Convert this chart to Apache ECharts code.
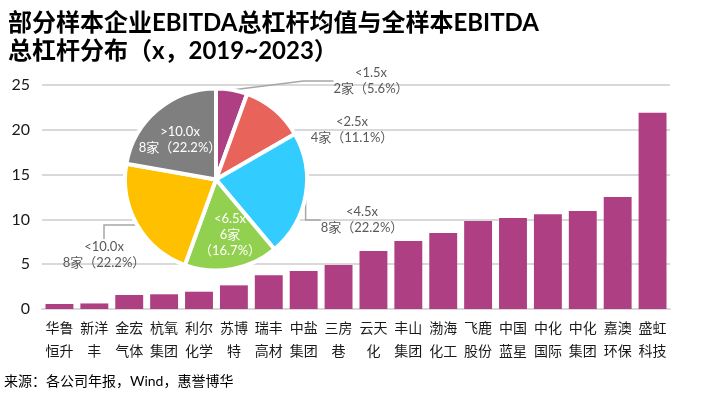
<!DOCTYPE html>
<html>
<head>
<meta charset="utf-8">
<script src="https://cdn.jsdelivr.net/npm/echarts@6/dist/echarts.min.js"></script>
<style>
  html,body{margin:0;padding:0;background:#fff;}
  #chart{width:701px;height:399px;}
</style>
</head>
<body>
<div id="chart"></div>
<script>
// bar data: EBITDA gross leverage mean 2019~2023
const companies = ['华鲁\n恒升','新洋\n丰','金宏\n气体','杭氧\n集团','利尔\n化学','苏博\n特','瑞丰\n高材','中盐\n集团','三房\n巷',
  '云天\n化','丰山\n集团','渤海\n化工','飞鹿\n股份','中国\n蓝星','中化\n国际','中化\n集团','嘉澳\n环保','盛虹\n科技'];
const leverage = [0.56, 0.62, 1.56, 1.64, 1.93, 2.64, 3.76, 4.24, 4.91, 6.47, 7.59, 8.48, 9.82, 10.16, 10.57, 10.94, 12.5, 21.9];
const yTicks = [0, 25, 5]; // min, max, interval

// pie data: distribution across full sample
const buckets = ['<1.5x','<2.5x','<4.5x','<6.5x','<10.0x','>10.0x'];
const bucketCounts = [2, 4, 8, 6, 8, 8];
const bucketColors = ['#AE3F82','#E8635A','#33CCFF','#92D050','#FFC000','#7F7F7F'];
const insideLabel = [false, false, false, true, false, true];
const labelSpots = [[371,81],[352,130],[362,220],[230,235],[104,255],[180,140]];

const FONT = 'Lato, "Noto Sans CJK SC", sans-serif';
const chart = echarts.init(document.getElementById('chart'));

const pieData = buckets.map((b,i)=>({
  name: b, value: bucketCounts[i],
  itemStyle:{color: bucketColors[i]},
  label: insideLabel[i] ? {color:'#fff', position:'inside'} : {color:'#595959'},
  labelLine: {show: !insideLabel[i] && i !== 1}
}));

chart.setOption({
  animation:false,
  title:{
    text:'部分样本企业EBITDA总杠杆均值与全样本EBITDA\n总杠杆分布（x，2019~2023）',
    left:3, top:4,
    textStyle:{fontSize:24, fontWeight:'bold', color:'#000', lineHeight:28, fontFamily:FONT}
  },
  graphic:[{
    type:'text', left:4, top:374,
    style:{text:'来源：各公司年报，Wind，惠誉博华', fontSize:14, fill:'#000', fontFamily:FONT}
  }],
  grid:{left:42, right:31, top:85, bottom:90},
  xAxis:{
    type:'category', data:companies,
    axisLine:{lineStyle:{color:'#d9d9d9', width:2}},
    axisTick:{show:false},
    axisLabel:{interval:0, fontSize:14, lineHeight:23, color:'#1a1a1a', margin:8, fontFamily:FONT}
  },
  yAxis:{
    type:'value', min:yTicks[0], max:yTicks[1], interval:yTicks[2],
    axisLine:{show:false}, axisTick:{show:false},
    axisLabel:{fontSize:16, color:'#1a1a1a', margin:12, fontFamily:FONT},
    splitLine:{lineStyle:{color:'#d9d9d9', width:2}}
  },
  series:[{
    type:'bar', data:leverage, barCategoryGap:'20%',
    itemStyle:{color:'#AE3F82'}
  },{
    type:'pie', center:[216,179.5], radius:91, startAngle:90,
    percentPrecision:1,
    itemStyle:{borderColor:'#fff', borderWidth:4},
    label:{
      fontSize:13, lineHeight:16, fontFamily:FONT, overflow:'none',
      formatter:p=> p.dataIndex===3 ? `${p.name}\n${p.value}家\n（${p.percent}%）` : `${p.name}\n${p.value}家（${p.percent}%）`
    },
    labelLine:{lineStyle:{color:'#a6a6a6', width:1.5}},
    labelLayout:p=>({x:labelSpots[p.dataIndex][0], y:labelSpots[p.dataIndex][1], align:'center', verticalAlign:'middle'}),
    data:pieData
  }]
});
</script>
</body>
</html>
